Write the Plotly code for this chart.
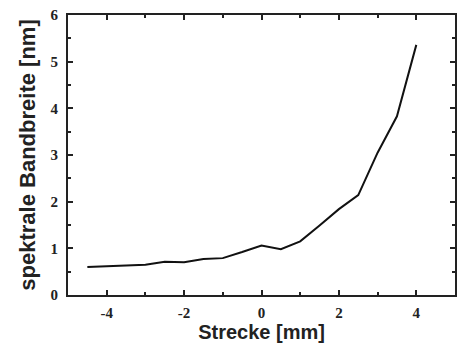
import plotly.graph_objects as go

strecke = [-4.5, -4, -3.5, -3, -2.5, -2, -1.5, -1, -0.5, 0, 0.5, 1, 1.5, 2, 2.5, 3, 3.5, 4]
bandbreite = [0.60, 0.62, 0.63, 0.65, 0.71, 0.70, 0.77, 0.79, 0.92, 1.06, 0.98, 1.15,
              1.49, 1.84, 2.14, 3.05, 3.83, 5.36]

x_ticks = [-4, -2, 0, 2, 4]
y_ticks = [0, 1, 2, 3, 4, 5, 6]

tick_font = dict(family="Liberation Serif", size=15, color="#222")
xtitle_font = dict(family="Liberation Sans", size=20, color="#222")
ytitle_font = dict(family="Liberation Sans", size=22, color="#222")

fig = go.Figure()
fig.add_trace(go.Scatter(x=strecke, y=bandbreite, mode="lines",
                         line=dict(color="#111", width=2), showlegend=False))

axis_common = dict(showline=True, linecolor="#222", linewidth=2, mirror="ticks",
                   ticks="inside", ticklen=5, tickwidth=1.5, tickcolor="#222",
                   showgrid=False, zeroline=False, tickfont=tick_font, automargin=False)

fig.update_xaxes(range=[-5, 5], tickvals=x_ticks, ticktext=["<b>%d</b>" % v for v in x_ticks],
                 ticklabelstandoff=3,
                 minor=dict(ticks="inside", dtick=1, tick0=-5, ticklen=3, tickwidth=1.5, tickcolor="#222"),
                 title=dict(text="<b>Strecke [mm]</b>", font=xtitle_font, standoff=3),
                 **axis_common)
fig.update_yaxes(range=[0, 6], tickvals=y_ticks, ticktext=["<b>%d</b>" % v for v in y_ticks],
                 ticklabelstandoff=5,
                 minor=dict(ticks="inside", dtick=0.5, tick0=0, ticklen=3, tickwidth=1.5, tickcolor="#222"),
                 title=dict(text="<b>spektrale Bandbreite [nm]</b>", font=ytitle_font, standoff=9),
                 **axis_common)

fig.update_layout(width=462, height=345, margin=dict(l=68, r=7, t=15, b=50),
                  paper_bgcolor="white", plot_bgcolor="white")

fig.write_html("out.html")
